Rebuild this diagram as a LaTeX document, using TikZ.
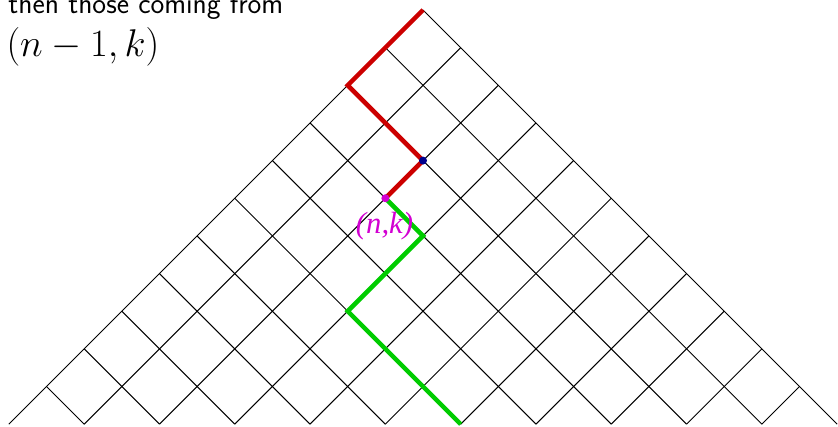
\documentclass[tikz,border=0pt]{standalone}
\usepackage{fix-cm}
\usepackage{fontspec}
\newfontfamily\labelfont{Liberation Serif}
\definecolor{pathred}{RGB}{204,0,0}
\definecolor{pathgreen}{RGB}{0,204,0}
\definecolor{dotmag}{RGB}{210,0,210}
\definecolor{dotblue}{RGB}{0,0,140}
\tikzset{every picture/.style={line width=0.75pt}}
\tikzset{
  grid line/.style={black, line width=0.75pt},
  red walk/.style={pathred, line width=3.4pt, line join=miter},
  green walk/.style={pathgreen, line width=3.4pt, line join=miter},
  walk dot/.style={circle, inner sep=0pt, minimum size=6pt},
}

\begin{document}
\begin{tikzpicture}[x=0.75pt,y=0.75pt,yscale=-1,xscale=1]
\useasboundingbox (0,0) rectangle (838,427);

%Straight Lines going down to the right
\draw [grid line] (423,10) -- (837.15,424.15) ;
\draw [grid line] (385.35,47.65) -- (761.85,424.15) ;
\draw [grid line] (347.7,85.3) -- (686.55,424.15) ;
\draw [grid line] (310.05,122.95) -- (611.25,424.15) ;
\draw [grid line] (272.4,160.6) -- (535.95,424.15) ;
\draw [grid line] (234.75,198.25) -- (460.65,424.15) ;
\draw [grid line] (197.1,235.9) -- (385.35,424.15) ;
\draw [grid line] (159.45,273.55) -- (310.05,424.15) ;
\draw [grid line] (121.8,311.2) -- (234.75,424.15) ;
\draw [grid line] (84.15,348.85) -- (159.45,424.15) ;
\draw [grid line] (46.5,386.5) -- (84.15,424.15) ;
%Straight Lines going down to the left
\draw [grid line] (423,10) -- (8.85,424.15) ;
\draw [grid line] (460.65,47.65) -- (84.15,424.15) ;
\draw [grid line] (498.3,85.3) -- (159.45,424.15) ;
\draw [grid line] (535.95,122.95) -- (234.75,424.15) ;
\draw [grid line] (573.6,160.6) -- (310.05,424.15) ;
\draw [grid line] (611.25,198.25) -- (385.35,424.15) ;
\draw [grid line] (648.9,235.9) -- (460.65,424.15) ;
\draw [grid line] (686.55,273.55) -- (535.95,424.15) ;
\draw [grid line] (724.2,311.2) -- (611.25,424.15) ;
\draw [grid line] (761.85,348.85) -- (686.55,424.15) ;
\draw [grid line] (799.5,386.5) -- (761.85,424.15) ;

%Corners of the two walks
\coordinate (top) at (423,10) ;
\coordinate (redturn) at (347.7,85.3) ;
\coordinate (prev) at (423,160.6) ;
\coordinate (here) at (385.35,198.25) ;
\coordinate (greenA) at (423,235.9) ;
\coordinate (greenB) at (347.7,311.2) ;
\coordinate (greenend) at (460.65,424.15) ;

%Walk from the top to (n,k)
\draw [red walk] (top) -- (redturn) -- (prev) -- (here) ;
%Walk from (n,k) down to the base
\draw [green walk] (here) -- (greenA) -- (greenB) -- (greenend) ;

%Shape: Circle
\node (prevdot) [walk dot, fill=dotblue] at (prev) {} ;
%Shape: Circle
\node (heredot) [walk dot, fill=dotmag] at (here) {} ;

% Text Node
\node (nklabel) [anchor=north, inner sep=0pt, text=dotmag] at (384.5,212) {\labelfont\itshape\fontsize{23}{26}\selectfont (n,k)} ;
% Text Node
\node (line1) [anchor=base west, inner sep=0pt] at (8,14) {\sffamily\fontsize{22}{26}\selectfont then those coming from} ;
% Text Node
\node (line2) [anchor=base west, inner sep=0pt] at (6,56.5) {\fontsize{29}{34}\selectfont $(n-1,k)$} ;

\end{tikzpicture}
\end{document}
